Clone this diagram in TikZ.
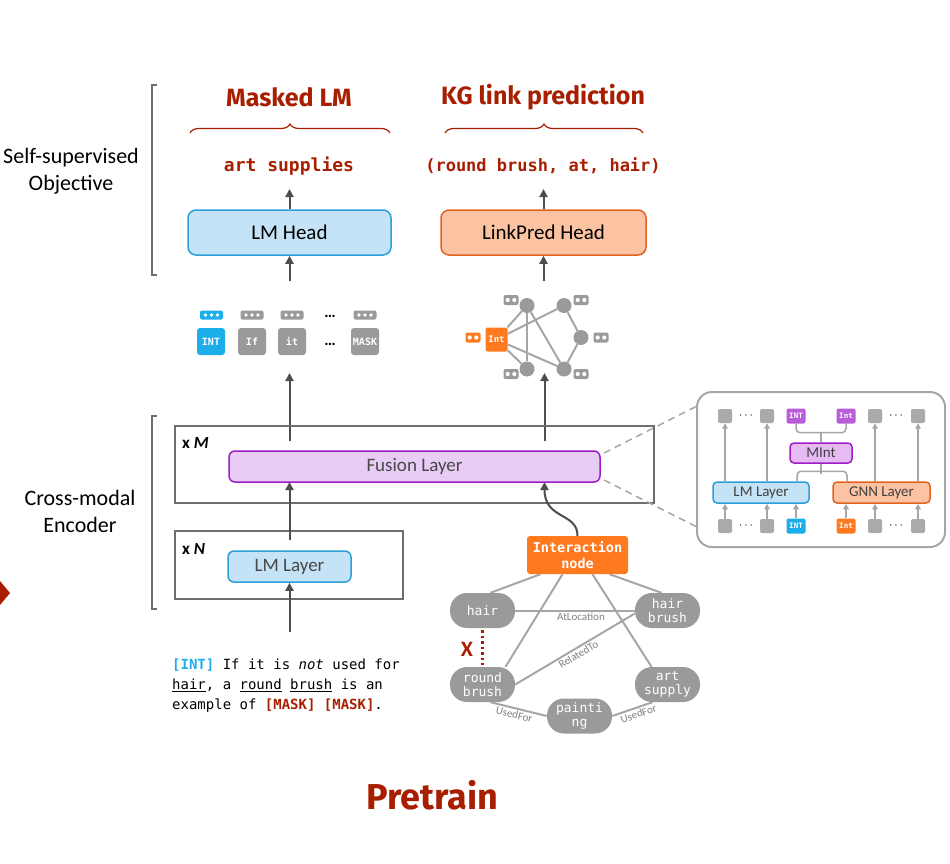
\documentclass[tikz,border=0pt]{standalone}
\usepackage{fontspec}
\setmainfont{Carlito}
\setmonofont{DejaVu Sans Mono}
\newfontfamily\titlefont{Fira Sans}
\usetikzlibrary{decorations.pathreplacing,backgrounds,calc,arrows.meta}
\definecolor{dred}{RGB}{168,30,0}
\definecolor{lmfill}{RGB}{196,227,246}
\definecolor{lmdraw}{RGB}{46,158,216}
\definecolor{lpfill}{RGB}{252,195,162}
\definecolor{lpdraw}{RGB}{226,98,31}
\definecolor{fufill}{RGB}{233,204,245}
\definecolor{fudraw}{RGB}{160,28,200}
\definecolor{orng}{RGB}{255,122,31}
\definecolor{chipgray}{RGB}{154,154,154}
\definecolor{sqgray}{RGB}{170,170,170}
\definecolor{linegray}{RGB}{166,166,166}
\definecolor{elgray}{RGB}{128,128,128}
\definecolor{arrowgray}{RGB}{77,77,77}
\definecolor{boxgray}{RGB}{110,110,110}
\definecolor{intblue}{RGB}{27,174,232}
\definecolor{purp}{RGB}{184,92,216}
\definecolor{mintfill}{RGB}{230,186,243}
\newcommand{\threedots}[3]{%
  \fill[#3,rounded corners=2pt] (#1-11.5,#2-4.5) rectangle (#1+11.5,#2+4.5);
  \foreach \dd in {-6,0,6} \fill[white] (#1+\dd,#2) circle (1.8pt);}
\newcommand{\twodots}[3]{%
  \fill[#3,rounded corners=2pt] (#1-7.5,#2-5) rectangle (#1+7.5,#2+5);
  \foreach \dd in {-3.3,3.3} \fill[white] (#1+\dd,#2) circle (2.1pt);}
\begin{document}
\begin{tikzpicture}[x=1pt,y=-1pt,
  arr/.style={draw=arrowgray, line width=2pt, -{Triangle[length=8pt,width=8pt]}},
  iarr/.style={draw=linegray, line width=1.5pt, -{Triangle[length=5.5pt,width=5.5pt]}},
  bigbox/.style={draw, rounded corners=8pt, line width=1.5pt, inner sep=0pt, font=\fontsize{21}{25}\selectfont},
  frame/.style={draw=boxgray, line width=1.5pt, inner sep=0pt},
  tok/.style={fill=chipgray, rounded corners=3pt, minimum width=28pt, minimum height=27pt, inner sep=0pt, text=white, font=\ttfamily\bfseries\fontsize{10}{10}\selectfont},
  gnode/.style={circle, fill=chipgray, minimum size=15pt, inner sep=0pt},
  kg/.style={fill=chipgray, rounded corners=17pt, minimum width=65pt, minimum height=35pt, inner sep=0pt, text=white, align=center, font=\ttfamily\fontsize{13}{14}\selectfont},
  kgedge/.style={draw=linegray, line width=2pt},
  elabel/.style={text=elgray, font=\fontsize{11}{12}\selectfont, inner sep=1.5pt},
  isq/.style={fill=sqgray, rounded corners=2pt, minimum size=14pt, inner sep=0pt},
  ichip/.style={rounded corners=2pt, minimum width=19pt, minimum height=15pt, inner sep=0pt, text=white, font=\ttfamily\bfseries\fontsize{7.5}{8}\selectfont},
  ilayer/.style={draw, rounded corners=4pt, line width=1.5pt, inner sep=0pt, text=black!75, font=\fontsize{15}{17}\selectfont},
  idots/.style={font=\fontsize{13}{13}\selectfont, inner sep=0pt}
]
\useasboundingbox (0,0) rectangle (950,863);
% left red arrow tip
\fill[dred] (0,581) -- (10,593) -- (0,605) -- cycle;
% left brackets
\draw[boxgray, line width=1.5pt] (157,85) -- (152,85) -- (152,275) -- (157,275);
\draw[boxgray, line width=1.5pt] (157,416) -- (152,416) -- (152,609) -- (157,609);
\node[align=center, font=\fontsize{22}{27}\selectfont] (ssl) at (71,171) {Self-supervised\\Objective};
\node[align=center, font=\fontsize{22}{27}\selectfont] (cme) at (80,511) {Cross-modal\\Encoder};
% titles
\node[text=dred, font=\titlefont\bfseries\fontsize{25}{28}\selectfont] (mlm) at (289,97) {Masked LM};
\node[text=dred, font=\titlefont\bfseries\fontsize{25}{28}\selectfont] (kgl) at (543,97) {KG link prediction};
\draw[dred, line width=1.2pt, decorate, decoration={brace, amplitude=9pt}] (190,133) -- (390,133);
\draw[dred, line width=1.2pt, decorate, decoration={brace, amplitude=9pt}] (445,133) -- (643,133);
\node[text=dred, font=\ttfamily\bfseries\fontsize{18}{20}\selectfont] (artsup) at (289,166) {art supplies};
\node[text=dred, font=\ttfamily\bfseries\fontsize{17}{20}\selectfont] (triple) at (543,166) {(round brush, at, hair)};
% heads
\node[bigbox, fill=lmfill, draw=lmdraw, minimum width=203pt, minimum height=45pt] (lmhead) at (289.5,232.5) {LM Head};
\node[bigbox, fill=lpfill, draw=lpdraw, minimum width=205pt, minimum height=45pt] (lphead) at (543.5,232.5) {LinkPred Head};
\coordinate (o1) at (289.5,189);
\coordinate (o2) at (543.5,189);
\coordinate (i1) at (289.5,281);
\coordinate (i2) at (543.5,281);
\draw[arr] (lmhead.north) -- (o1);
\draw[arr] (lphead.north) -- (o2);
\draw[arr] (i1) -- (lmhead.south);
\draw[arr] (i2) -- (lphead.south);
% token row
\threedots{211.5}{315}{intblue}
\threedots{252}{315}{chipgray}
\threedots{292}{315}{chipgray}
\threedots{365}{315}{chipgray}
\node[font=\bfseries\fontsize{16}{16}\selectfont, anchor=base, inner sep=0pt] (udots) at (330,317) {…};
\node[tok, fill=intblue] (tINT) at (211,341.5) {INT};
\node[tok] (tIf) at (252,341.5) {If};
\node[tok] (tit) at (292,341.5) {it};
\node[font=\bfseries\fontsize{16}{16}\selectfont, anchor=base, inner sep=0pt] (tdots) at (330,345) {…};
\node[tok] (tMASK) at (365,341.5) {MASK};
% graph
\node[fill=orng, rounded corners=2pt, minimum width=22pt, minimum height=24pt, inner sep=0pt, text=white, font=\ttfamily\bfseries\fontsize{9}{10}\selectfont] (gInt) at (496.5,339.5) {Int};
\node[gnode] (g1) at (527,305.5) {};
\node[gnode] (g2) at (564,305.5) {};
\node[gnode] (g3) at (581,337.5) {};
\node[gnode] (g4) at (527,369) {};
\node[gnode] (g5) at (564,369) {};
\begin{scope}[on background layer]
\draw[kgedge] (gInt) -- (g1);
\draw[kgedge] (gInt) -- (g2);
\draw[kgedge] (gInt) -- (g4);
\draw[kgedge] (gInt) -- (g5);
\draw[kgedge] (g1) -- (g4);
\draw[kgedge] (g1) -- (g5);
\draw[kgedge] (g2) -- (g3);
\draw[kgedge] (g3) -- (g5);
\end{scope}
\twodots{473}{337.5}{orng}
\twodots{511}{300}{chipgray}
\twodots{581}{300}{chipgray}
\twodots{601}{337.5}{chipgray}
\twodots{511}{374}{chipgray}
\twodots{581}{374}{chipgray}
% encoder
\coordinate (u1s) at (289.5,441);
\coordinate (u1e) at (289.5,373);
\coordinate (u2s) at (544.5,441);
\coordinate (u2e) at (544.5,373);
\draw[arr] (u1s) -- (u1e);
\draw[arr] (u2s) -- (u2e);
\node[frame, minimum width=479pt, minimum height=77pt] (xm) at (414.5,464.5) {};
\node[anchor=west, inner sep=0pt, font=\bfseries\fontsize{17}{20}\selectfont] (xmlab) at (182,443) {x \textit{M}};
\node[bigbox, fill=fufill, draw=fudraw, rounded corners=6pt, minimum width=371pt, minimum height=31pt, text=black!72, font=\fontsize{19}{22}\selectfont] (fusion) at (414.5,466.5) {Fusion Layer};
\node[frame, minimum width=228pt, minimum height=68pt] (xn) at (289,565) {};
\node[anchor=west, inner sep=0pt, font=\bfseries\fontsize{17}{20}\selectfont] (xnlab) at (182,549) {x \textit{N}};
\node[bigbox, fill=lmfill, draw=lmdraw, rounded corners=6pt, minimum width=123pt, minimum height=31pt, text=black!72, font=\fontsize{19}{22}\selectfont] (lmlayer) at (289.5,566.5) {LM Layer};
\coordinate (fin1) at (289.5,540);
\coordinate (fout1) at (289.5,482);
\draw[arr] (fin1) -- (fout1);
\coordinate (txtin) at (289.5,632);
\draw[arr] (txtin) -- (lmlayer.south);
% inset
\node[draw=linegray, line width=2pt, rounded corners=15pt, minimum width=248pt, minimum height=155pt, inner sep=0pt] (inset) at (821,469.5) {};
\coordinate (d1s) at (604,453);
\coordinate (d1e) at (699,405);
\coordinate (d2s) at (604,480);
\coordinate (d2e) at (697,527);
\draw[linegray, line width=1.5pt, dash pattern=on 7pt off 5pt] (d1s) -- (d1e);
\draw[linegray, line width=1.5pt, dash pattern=on 7pt off 5pt] (d2s) -- (d2e);
\node[isq] (ts1) at (725,416) {};
\node[idots] (td1) at (746,416) {$\cdots$};
\node[isq] (ts2) at (767,416) {};
\node[ichip, fill=purp] (tpINT) at (796,416) {INT};
\node[ichip, fill=purp] (tpInt) at (846,416) {Int};
\node[isq] (ts3) at (875,416) {};
\node[idots] (td2) at (896,416) {$\cdots$};
\node[isq] (ts4) at (918,416) {};
\node[isq] (bs1) at (725,526) {};
\node[idots] (bd1) at (746,526) {$\cdots$};
\node[isq] (bs2) at (767,526) {};
\node[ichip, fill=intblue] (bINT) at (796,526) {INT};
\node[ichip, fill=orng] (bInt) at (846,526) {Int};
\node[isq] (bs3) at (875,526) {};
\node[idots] (bd2) at (896,526) {$\cdots$};
\node[isq] (bs4) at (918,526) {};
\node[ilayer, fill=mintfill, draw=fudraw, minimum width=62pt, minimum height=20pt] (mint) at (821,453) {MInt};
\node[ilayer, fill=lmfill, draw=lmdraw, minimum width=96pt, minimum height=21pt] (ilm) at (761,492.5) {LM Layer};
\node[ilayer, fill=lpfill, draw=lpdraw, minimum width=97pt, minimum height=21pt] (ignn) at (881.5,492.5) {GNN Layer};
\draw[iarr] (bs1.north) -- (bs1.north |- ilm.south);
\draw[iarr] (bs2.north) -- (bs2.north |- ilm.south);
\draw[iarr] (bINT.north) -- (bINT.north |- ilm.south);
\draw[iarr] (bInt.north) -- (bInt.north |- ignn.south);
\draw[iarr] (bs3.north) -- (bs3.north |- ignn.south);
\draw[iarr] (bs4.north) -- (bs4.north |- ignn.south);
\draw[iarr] (ts1.south |- ilm.north) -- (ts1.south);
\draw[iarr] (ts2.south |- ilm.north) -- (ts2.south);
\draw[iarr] (ts3.south |- ignn.north) -- (ts3.south);
\draw[iarr] (ts4.south |- ignn.north) -- (ts4.south);
\draw[linegray, line width=1.5pt, rounded corners=4pt] (tpINT.south) -- ++(0,9) -- ($(tpInt.south)+(0,9)$) -- (tpInt.south);
\draw[linegray, line width=1.5pt] ($(mint.north)+(0,-10)$) -- (mint.north);
\draw[linegray, line width=1.5pt, rounded corners=4pt] ($(ilm.north)+(36,0)$) -- ++(0,-10) -- ($(ignn.north)+(-34.5,-10)$) -- ($(ignn.north)+(-34.5,0)$);
\draw[linegray, line width=1.5pt] (mint.south) -- ++(0,10);
% KG
\node[fill=orng, rounded corners=3pt, minimum width=101pt, minimum height=38pt, inner sep=0pt, align=center, text=white, font=\ttfamily\bfseries\fontsize{13.5}{16}\selectfont] (inter) at (577.5,555) {Interaction\\node};
\coordinate (fin2) at (544.5,482);
\draw[arr] (inter.north) .. controls (577.5,512) and (544.5,520) .. (fin2);
\node[kg] (hair) at (482.5,610.5) {hair};
\node[kg] (hb) at (667.5,610.5) {hair\\brush};
\node[kg] (rb) at (482.5,684.5) {round\\brush};
\node[kg] (as) at (667.5,684.5) {art\\supply};
\node[kg] (paint) at (579.5,716) {painti\\ng};
\begin{scope}[on background layer]
\draw[kgedge] ($(inter.south)+(-37,0)$) -- ($(hair.north)+(8,0)$);
\draw[kgedge] ($(inter.south)+(32,0)$) -- ($(hb.north)+(-6,0)$);
\draw[kgedge] ($(inter.south)+(-15,0)$) -- ($(rb.north)+(23,0)$);
\draw[kgedge] ($(inter.south)+(15,0)$) -- ($(as.north)+(-16,0)$);
\draw[kgedge] (hair.east) -- node[elabel, below, pos=0.55] {AtLocation} (hb.west);
\draw[kgedge] (rb.east) -- node[elabel, below, sloped, pos=0.5] {RelatedTo} ($(hb.west)+(0,3)$);
\draw[kgedge] ($(rb.south)+(8,0)$) -- node[elabel, below, sloped, pos=0.45] {UsedFor} (paint.west);
\draw[kgedge] (paint.east) -- node[elabel, below, sloped, pos=0.6] {UsedFor} ($(as.south)+(-15,0)$);
\end{scope}
\draw[dred, line width=2.5pt, dash pattern=on 2.5pt off 3pt] ($(hair.south)+(0,2)$) -- ($(rb.north)+(0,-2)$);
\node[text=dred, font=\bfseries\fontsize{22}{22}\selectfont, inner sep=0pt] (xmark) at (467,649) {X};
% sentence
\node[anchor=north west, align=left, inner sep=0pt, font=\ttfamily\fontsize{14}{20}\selectfont] (sent) at (172,659) {\textcolor{intblue}{\bfseries[INT]} If it is \textit{not} used for\\ \underline{hair}, a \underline{round} \underline{brush} is an\\ example of \textcolor{dred}{\bfseries[MASK]} \textcolor{dred}{\bfseries[MASK]}.};
% title
\node[text=dred, font=\titlefont\bfseries\fontsize{36}{40}\selectfont] (pre) at (432,795) {Pretrain};
\end{tikzpicture}
\end{document}
